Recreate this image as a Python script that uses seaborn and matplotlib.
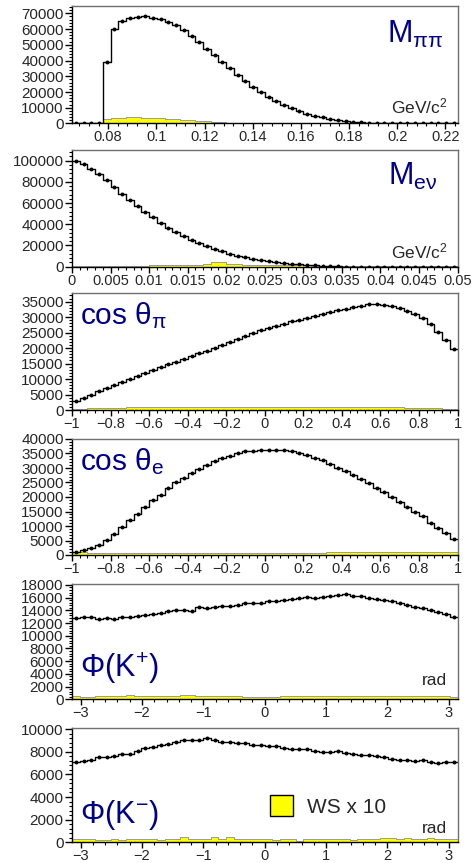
import numpy as np
import pandas as pd
import seaborn as sns
import matplotlib.pyplot as plt
from matplotlib.ticker import MultipleLocator, AutoMinorLocator, FuncFormatter
from matplotlib.patches import Patch

# M_pipi, 50 bins in [0.065, 0.225]
mpipi = [0, 0, 0, 0, 39000, 60100, 65000, 66900, 67900, 68000,
         67300, 66400, 64700, 62600, 59400, 55500, 51500, 47400, 43600, 39200,
         35000, 30800, 26900, 23000, 19800, 16700, 14100, 11700, 9600, 7900,
         6300, 5000, 3900, 3000, 2300, 1700, 1200, 750, 400, 200,
         100, 50, 20, 10, 0, 0, 0, 0, 0, 0]
mpipi_ws = [0, 0, 0, 0, 2900, 3600, 3800, 3900, 3900, 3800,
            3600, 3400, 3100, 2800, 2500, 2200, 1800, 1400, 1000, 700,
            450, 300, 200, 120, 80, 50, 30, 20, 10, 0,
            0, 0, 0, 0, 0, 0, 0, 0, 0, 0,
            0, 0, 0, 0, 0, 0, 0, 0, 0, 0]

# M_enu, 50 bins in [0, 0.05]
menu = [100000, 96800, 92400, 87400, 81400, 75100, 68800, 63100, 57400, 51700,
        46700, 41600, 36900, 32500, 28700, 25600, 22100, 19200, 16700, 14500,
        12300, 10400, 8800, 7600, 6400, 5300, 4400, 3600, 2900, 2300,
        1700, 1200, 800, 500, 250, 100, 50, 20, 0, 0,
        0, 0, 0, 0, 0, 0, 0, 0, 0, 0]
menu_ws = [1000, 900, 800, 800, 700, 700, 800, 900, 900, 1000,
           1700, 1800, 1800, 1800, 1900, 1900, 2000, 2600, 4200, 4400,
           3000, 2400, 1900, 1700, 1600, 1500, 1500, 1400, 1400, 1300,
           1200, 1100, 1100, 1000, 900, 800, 600, 500, 500, 400,
           400, 300, 300, 300, 200, 200, 200, 200, 200, 200]

# cos theta_pi, 50 bins in [-1, 1]
cpi = [3000, 4000, 5000, 6000, 7000, 8000, 9000, 10000, 10900, 11900,
       12900, 13800, 14700, 15600, 16500, 17400, 18300, 19200, 20100, 21000,
       21900, 22800, 23800, 24800, 25700, 26500, 27200, 27900, 28600, 29200,
       29800, 30400, 31000, 31600, 32200, 32700, 33200, 33700, 34100, 34200,
       34000, 33600, 32900, 32000, 30900, 29600, 27900, 25200, 22500, 19600]
cpi_ws = [400, 400, 500, 500, 700, 800, 800, 900, 900, 1000,
          1100, 1000, 1000, 1100, 1000, 1000, 900, 1000, 1000, 1100,
          1000, 1000, 1000, 900, 900, 1100, 1000, 1000, 900, 1000,
          1100, 1000, 1000, 1100, 1000, 1000, 900, 1000, 900, 1000,
          900, 900, 1000, 800, 800, 700, 700, 500, 400, 400]

# cos theta_e, 50 bins in [-1, 1]
ce = [1200, 1700, 2500, 3500, 5300, 7300, 9700, 12000, 14300, 16500,
      18800, 20800, 23000, 25000, 26700, 28200, 29800, 31200, 32400, 33400,
      34300, 35000, 35700, 35900, 36100, 36200, 36300, 36300, 35700, 35100,
      34400, 33600, 32600, 31400, 30100, 28900, 27600, 26100, 24700, 23200,
      21700, 20000, 18300, 16600, 15000, 13300, 11200, 9300, 7500, 5600]
ce_ws = [1200, 900, 700, 700, 700, 700, 700, 700, 700, 700,
         700, 700, 700, 700, 700, 700, 700, 800, 700, 700,
         700, 700, 700, 700, 700, 700, 700, 800, 800, 800,
         800, 800, 800, 900, 900, 900, 1000, 1000, 1000, 1000,
         1000, 1000, 1000, 1100, 1100, 1100, 1000, 1000, 1100, 1200]

# Phi(K+), 50 bins in [-pi, pi]
phikp = [12800, 13000, 12900, 12700, 12800, 12700, 12900, 13000, 13100, 13300,
         13500, 13600, 13900, 14000, 14100, 13900, 14500, 14400, 14500, 14700,
         14700, 14900, 15200, 15200, 15100, 15400, 15500, 15600, 15800, 16000,
         16100, 15900, 16100, 16300, 16400, 16500, 16300, 16200, 16000, 15800,
         15600, 15500, 15100, 14900, 14500, 14300, 14100, 13800, 13400, 13000]
phikp_ws = [450, 400, 400, 450, 450, 450, 500, 600, 550, 500,
            550, 550, 500, 550, 600, 600, 450, 450, 500, 500,
            550, 450, 400, 400, 400, 400, 400, 450, 450, 500,
            500, 500, 500, 450, 500, 550, 550, 500, 500, 550,
            500, 500, 550, 550, 500, 500, 450, 500, 450, 400]

# Phi(K-), 50 bins in [-pi, pi]
phikm = [7100, 7200, 7300, 7500, 7500, 7600, 7800, 7800, 8100, 8300,
         8400, 8600, 8700, 8900, 9000, 9000, 9000, 9200, 9000, 8900,
         8900, 8800, 8800, 8600, 8600, 8500, 8500, 8300, 8200, 8200,
         8200, 8100, 8000, 8000, 8100, 7900, 7800, 7700, 7700, 7600,
         7500, 7400, 7300, 7300, 7200, 7300, 7100, 7000, 7100, 7100]
phikm_ws = [250, 250, 250, 200, 200, 250, 200, 250, 250, 250,
            250, 200, 250, 300, 450, 250, 300, 250, 450, 300,
            450, 250, 300, 250, 300, 250, 200, 250, 300, 150,
            250, 250, 250, 300, 250, 250, 200, 250, 250, 300,
            350, 350, 300, 400, 300, 300, 350, 300, 300, 300]

sns.set_style("ticks")
plt.rcParams['font.family'] = ['Liberation Sans', 'DejaVu Sans']
plt.rcParams['mathtext.fontset'] = 'custom'
plt.rcParams['mathtext.rm'] = 'Liberation Sans'
plt.rcParams['mathtext.it'] = 'Liberation Sans'
plt.rcParams['mathtext.default'] = 'regular'

W, H = 474, 863
fig = plt.figure(figsize=(W / 100, H / 100), dpi=100)

BLUE = '#00008f'
left_px, right_px = 72, 457.5

panels = [
    # counts, ws, xlo, xhi, ymax, ymajor, xmajor, (top, bottom) in px
    (mpipi, mpipi_ws, 0.065, 0.225, 74800, 10000, 0.02, (5.7, 123.5)),
    (menu, menu_ws, 0.0, 0.05, 110000, 20000, 0.005, (150, 266.7)),
    (cpi, cpi_ws, -1, 1, 37700, 5000, 0.2, (293.3, 410)),
    (ce, ce_ws, -1, 1, 40000, 5000, 0.2, (439, 555)),
    (phikp, phikp_ws, -np.pi, np.pi, 18150, 2000, 1, (584, 699.3)),
    (phikm, phikm_ws, -np.pi, np.pi, 10120, 2000, 1, (727.7, 842.3)),
]

num_fmt = FuncFormatter(lambda v, _: ('%g' % round(v, 6)).replace('-', '\u2212'))

axes = []
for counts, ws, lo, hi, ymax, ymaj, xmaj, (top, bot) in panels:
    ax = fig.add_axes([left_px / W, 1 - bot / H, (right_px - left_px) / W, (bot - top) / H])
    nb = len(counts)
    edges = np.linspace(lo, hi, nb + 1)
    df = pd.DataFrame({'x': 0.5 * (edges[1:] + edges[:-1]), 'n': counts, 'ws': ws})
    sns.histplot(data=df, x='x', weights='ws', bins=nb, binrange=(lo, hi),
                 element='step', fill=True, color='#ffff00', alpha=1,
                 edgecolor='#9a9a9a', linewidth=0.7, ax=ax)
    sns.histplot(data=df, x='x', weights='n', bins=nb, binrange=(lo, hi),
                 element='step', fill=False, color='black', linewidth=1.0, ax=ax)
    sns.scatterplot(data=df, x='x', y='n', color='black', s=8, linewidth=0, ax=ax, zorder=5)
    ax.set_xlim(lo, hi)
    ax.set_ylim(0, ymax)
    ax.set_xlabel('')
    ax.set_ylabel('')
    ax.xaxis.set_major_locator(MultipleLocator(xmaj))
    ax.xaxis.set_minor_locator(AutoMinorLocator(5))
    ax.yaxis.set_major_locator(MultipleLocator(ymaj))
    ax.yaxis.set_minor_locator(AutoMinorLocator(5))
    ax.xaxis.set_major_formatter(num_fmt)
    ax.yaxis.set_major_formatter(num_fmt)
    ax.tick_params(which='major', direction='out', width=1, color='black')
    ax.tick_params(which='minor', direction='out', length=2.5, width=0.8, color='black')
    ax.tick_params(axis='y', which='major', length=5, pad=1, labelsize=11)
    ax.tick_params(axis='x', which='major', length=4, pad=1, labelsize=10.5)
    for s in ['top', 'right']:
        ax.spines[s].set_color('#707070')
    for s in ['left', 'bottom']:
        ax.spines[s].set_color('black')
    for s in ax.spines.values():
        s.set_linewidth(1)
    axes.append(ax)

ax1, ax2, ax3, ax4, ax5, ax6 = axes

ax1.text(0.817, 0.686, r'$M_{\pi\pi}$', transform=ax1.transAxes, color=BLUE,
         fontsize=22, ha='left', va='baseline')
ax1.text(0.975, 0.087, r'GeV/c$^{2}$', transform=ax1.transAxes, fontsize=12.5,
         ha='right', va='baseline')
ax2.text(0.82, 0.70, r'$M_{e\nu}$', transform=ax2.transAxes, color=BLUE,
         fontsize=22, ha='left', va='baseline')
ax2.text(0.975, 0.072, r'GeV/c$^{2}$', transform=ax2.transAxes, fontsize=12.5,
         ha='right', va='baseline')
ax3.text(0.021, 0.734, r'cos $\theta_{\pi}$', transform=ax3.transAxes, color=BLUE,
         fontsize=21.5, ha='left', va='baseline')
ax4.text(0.021, 0.733, r'cos $\theta_{e}$', transform=ax4.transAxes, color=BLUE,
         fontsize=21.5, ha='left', va='baseline')
ax5.text(0.021, 0.196, r'$\Phi(K^{+})$', transform=ax5.transAxes, color=BLUE,
         fontsize=22, ha='left', va='baseline')
ax5.text(0.973, 0.124, 'rad', transform=ax5.transAxes, fontsize=12.5,
         ha='right', va='baseline')
ax6.text(0.021, 0.166, r'$\Phi(K^{-})$', transform=ax6.transAxes, color=BLUE,
         fontsize=22, ha='left', va='baseline')
ax6.text(0.973, 0.079, 'rad', transform=ax6.transAxes, fontsize=12.5,
         ha='right', va='baseline')

handle = Patch(facecolor='#ffff00', edgecolor='black', linewidth=1)
ax6.legend(handles=[handle], labels=['WS x 10'], loc='center left',
           bbox_to_anchor=(0.514, 0.317), frameon=False, fontsize=15,
           handlelength=1.1, handleheight=1.15, handletextpad=0.65,
           borderpad=0, borderaxespad=0)

fig.savefig('out.png', dpi=100)
